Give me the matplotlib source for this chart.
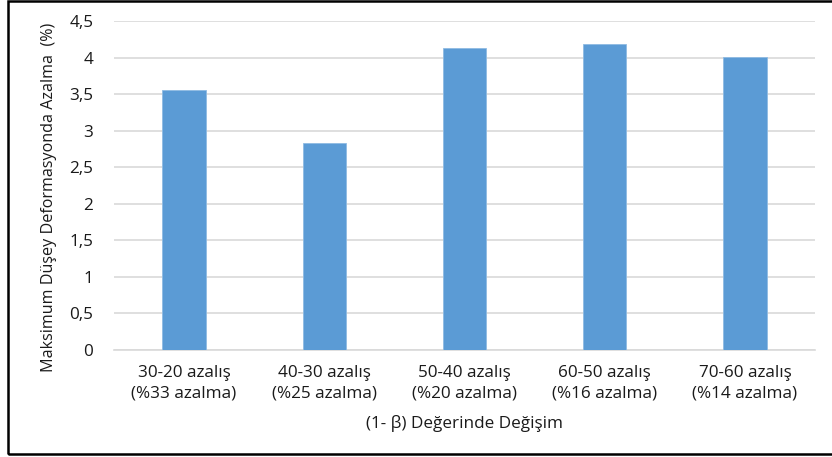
import matplotlib.pyplot as plt
from matplotlib.patches import Rectangle

# Bar data: change in (1- β) and the resulting reduction
categories = [
    "30-20 azalış\n(%33 azalma)",
    "40-30 azalış\n(%25 azalma)",
    "50-40 azalış\n(%20 azalma)",
    "60-50 azalış\n(%16 azalma)",
    "70-60 azalış\n(%14 azalma)",
]
values = [3.55, 2.83, 4.13, 4.18, 4.01]
yticks = [0, 0.5, 1, 1.5, 2, 2.5, 3, 3.5, 4, 4.5]
ytick_labels = ["0", "0,5", "1", "1,5", "2", "2,5", "3", "3,5", "4", "4,5"]

plt.rcParams["font.family"] = ["Open Sans", "DejaVu Sans"]

fig = plt.figure(figsize=(8.32, 4.57), dpi=100)
W, H = 832, 457
ax = fig.add_axes([114 / W, 1 - 350 / H, (815 - 114) / W, (350 - 21) / H])

x = range(len(values))
ax.bar(x, values, width=0.31, color="#5b9bd5", edgecolor="#8fbbe3",
       linewidth=0.6, zorder=3)

ax.set_xlim(-0.5, len(values) - 0.5)
ax.set_ylim(0, 4.5)
ax.set_yticks(yticks)
ax.set_yticklabels(ytick_labels)
ax.set_xticks(list(x))
ax.set_xticklabels(categories, linespacing=1.35)
ax.yaxis.grid(True, color="#d9d9d9", linewidth=1.2, zorder=0)
ax.tick_params(axis="both", length=0, labelsize=12.3, colors="#1a1a1a")
ax.tick_params(axis="y", pad=15)
ax.tick_params(axis="x", pad=11)
for side in ["top", "right", "left"]:
    ax.spines[side].set_visible(False)
ax.spines["bottom"].set_color("#d9d9d9")
ax.spines["bottom"].set_linewidth(1.2)

ax.set_xlabel("(1- β) Değerinde Değişim", fontsize=12.3, color="#1a1a1a",
              labelpad=10)
ax.set_ylabel("Maksimum Düşey Deformasyonda Azalma  (%)", fontsize=11.6,
              color="#1a1a1a")
ax.yaxis.set_label_coords((57 - 114) / 701, (350 - 197) / 329)

# outer frame
fig.patches.append(Rectangle((8 / W, 3 / H), 1.0, 1 - 4 / H,
                             transform=fig.transFigure, fill=False,
                             edgecolor="black", linewidth=1.8))

fig.savefig("out.png", dpi=100)
